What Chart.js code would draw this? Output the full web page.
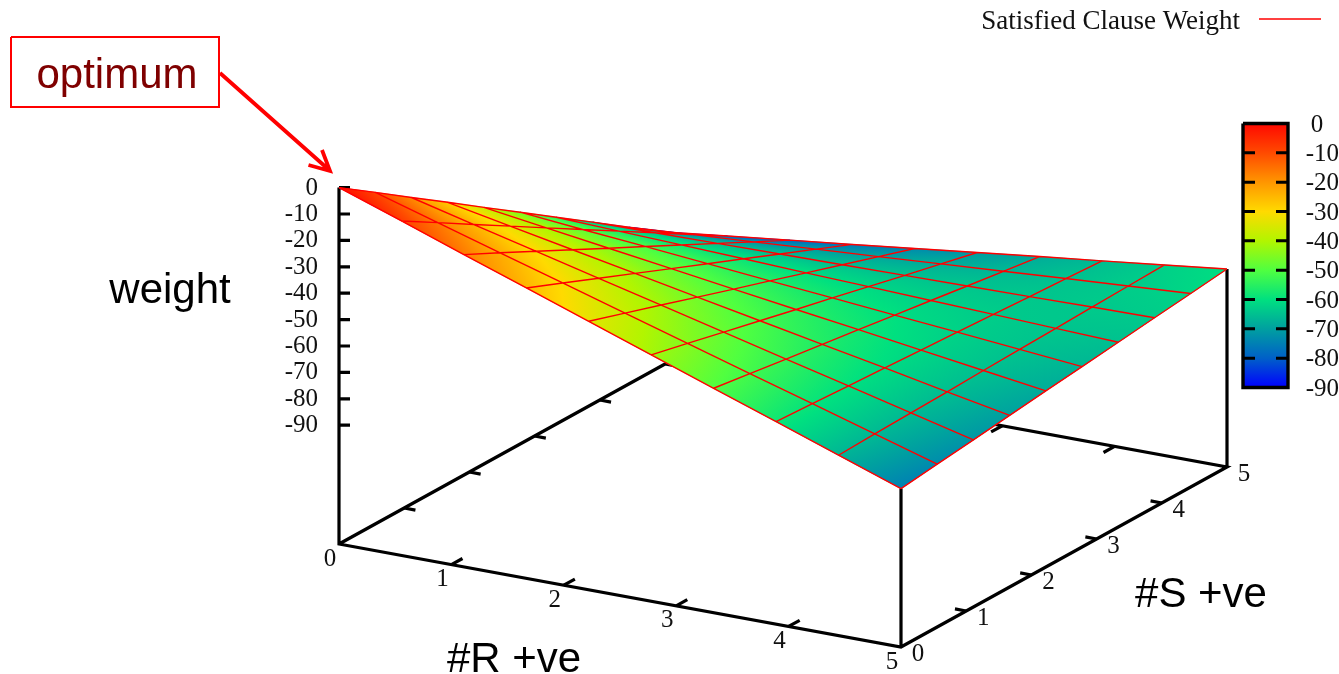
<!DOCTYPE html>
<html>
<head>
<meta charset="utf-8">
<title>Satisfied Clause Weight</title>
<script src="https://cdn.jsdelivr.net/npm/chart.js@4/dist/chart.umd.js"></script>
<style>
  html, body { margin: 0; padding: 0; background: #fff; }
  canvas { display: block; }
</style>
</head>
<body>
<canvas id="surfaceChart" width="1339" height="674"></canvas>
<script>
// surface nodes
const rGrid = [0, 0.556, 1.111, 1.667, 2.222, 2.778, 3.333, 3.889, 4.444, 5];
const sGrid = [0, 0.556, 1.111, 1.667, 2.222, 2.778, 3.333, 3.889, 4.444, 5];
const weightS0 = [0, -8.3, -16.7, -25, -33.3, -41.7, -50, -58.3, -66.7, -75];
const weightS1 = [-9.4, -16.5, -23.6, -30.7, -37.8, -44.9, -52, -59.1, -66.2, -73.3];
const weightS2 = [-18.9, -24.8, -30.6, -36.5, -42.3, -48.2, -54.1, -59.9, -65.8, -71.7];
const weightS3 = [-28.3, -33, -37.6, -42.2, -46.9, -51.5, -56.1, -60.7, -65.4, -70];
const weightS4 = [-37.8, -41.2, -44.6, -48, -51.4, -54.8, -58.1, -61.5, -64.9, -68.3];
const weightS5 = [-47.2, -49.4, -51.5, -53.7, -55.9, -58, -60.2, -62.3, -64.5, -66.7];
const weightS6 = [-56.7, -57.6, -58.5, -59.4, -60.4, -61.3, -62.2, -63.1, -64.1, -65];
const weightS7 = [-66.1, -65.8, -65.5, -65.2, -64.9, -64.6, -64.3, -64, -63.6, -63.3];
const weightS8 = [-75.6, -74, -72.5, -70.9, -69.4, -67.8, -66.3, -64.7, -63.2, -61.7];
const weightS9 = [-85, -82.2, -79.4, -76.7, -73.9, -71.1, -68.3, -65.6, -62.8, -60];
const weights = [weightS0, weightS1, weightS2, weightS3, weightS4, weightS5, weightS6, weightS7, weightS8, weightS9];

const rTicks = [0, 1, 2, 3, 4, 5];
const sTicks = [0, 1, 2, 3, 4, 5];
const zTicks = [0, -10, -20, -30, -40, -50, -60, -70, -80, -90];
const paletteColors = [
  "#ff0800", "#ff4a00", "#ff9600", "#ffda00", "#b2f500",
  "#50ff40", "#00e080", "#00a0a0", "#0060c8", "#0000ff"
];

// gnuplot-like view: r, s, z go to the x and y scales of the chart
const Z_FLOOR = -135;
const project = (r, s, z) => ({
  x: 339 + r * 112.4 + s * 65.2,
  y: 544 + r * 20.6 - s * 36 - (z - Z_FLOOR) * 2.64
});
const BAR = { left: 1243, right: 1288, top: 123.5, bottom: 387.5 };
const barY = (v) => BAR.top + (v / -90) * (BAR.bottom - BAR.top);

const paletteGradient = (ctx, x0, y0, x1, y1) => {
  const g = ctx.createLinearGradient(x0, y0, x1, y1);
  paletteColors.forEach((c, i) => g.addColorStop(i / (paletteColors.length - 1), c));
  return g;
};

const gap = { x: NaN, y: NaN };
const strokes = (segments) => segments.flatMap((seg) => [...seg, gap]);

const frame = strokes([
  [project(0, 0, 0), project(0, 0, Z_FLOOR), project(5, 0, Z_FLOOR), project(5, 5, Z_FLOOR), project(0, 5, Z_FLOOR), project(0, 0, Z_FLOOR)],
  [project(5, 0, weightS0[9]), project(5, 0, Z_FLOOR)],
  [project(5, 5, weightS9[9]), project(5, 5, Z_FLOOR)]
]);
const tickLines = strokes([
  ...zTicks.map((z) => [project(0, 0, z), { x: project(0, 0, z).x + 11, y: project(0, 0, z).y }]),
  ...rTicks.slice(1, 5).flatMap((r) => [
    [project(r, 0, Z_FLOOR), project(r, 0.17, Z_FLOOR)],
    [project(r, 5, Z_FLOOR), project(r, 4.83, Z_FLOOR)]
  ]),
  ...sTicks.slice(1, 5).flatMap((s) => [
    [project(0, s, Z_FLOOR), project(0.1, s, Z_FLOOR)],
    [project(5, s, Z_FLOOR), project(4.9, s, Z_FLOOR)]
  ])
]);
const gridLines = strokes([
  ...sGrid.map((s, j) => rGrid.map((r, i) => project(r, s, weights[j][i]))),
  ...rGrid.map((r, i) => sGrid.map((s, j) => project(r, s, weights[j][i])))
]);
const barBox = strokes([[
  { x: BAR.left, y: BAR.top }, { x: BAR.right, y: BAR.top }, { x: BAR.right, y: BAR.bottom },
  { x: BAR.left, y: BAR.bottom }, { x: BAR.left, y: BAR.top }
]]);
const barTicks = strokes(zTicks.slice(1, 9).flatMap((v) => [
  [{ x: BAR.left, y: barY(v) }, { x: BAR.left + 12, y: barY(v) }],
  [{ x: BAR.right - 12, y: barY(v) }, { x: BAR.right, y: barY(v) }]
]));
const legendLine = [{ x: 1259, y: 19 }, { x: 1321, y: 19 }];
const calloutBox = strokes([[
  { x: 11, y: 37 }, { x: 219, y: 37 }, { x: 219, y: 107 }, { x: 11, y: 107 }, { x: 11, y: 37 }
]]);
const calloutArrow = strokes([
  [{ x: 220, y: 73 }, { x: 328, y: 169 }],
  [{ x: 308.5, y: 165 }, { x: 330, y: 171 }, { x: 322, y: 150 }]
]);

const lineSet = (id, data, color, width, order) => ({
  id, data, order, showLine: true, borderColor: color, borderWidth: width,
  pointRadius: 0, spanGaps: false, tension: 0, clip: false, borderJoinStyle: "miter"
});

const surfacePlugin = {
  id: "surfacePlugin",
  beforeDatasetDraw(chart, args) {
    if (chart.data.datasets[args.index].id !== "surface") return;
    const { ctx, scales } = chart;
    const px = (p) => ({ x: scales.x.getPixelForValue(p.x), y: scales.y.getPixelForValue(p.y) });
    ctx.save();
    ctx.lineWidth = 0.8;
    for (let j = 0; j < sGrid.length - 1; j++) {
      for (let i = 0; i < rGrid.length - 1; i++) {
        const z00 = weights[j][i], z10 = weights[j][i + 1], z01 = weights[j + 1][i], z11 = weights[j + 1][i + 1];
        const p00 = px(project(rGrid[i], sGrid[j], z00));
        const p10 = px(project(rGrid[i + 1], sGrid[j], z10));
        const p01 = px(project(rGrid[i], sGrid[j + 1], z01));
        const p11 = px(project(rGrid[i + 1], sGrid[j + 1], z11));
        // one linear colour ramp per cell, fitted at the cell centre
        const ux = (p10.x + p11.x - p00.x - p01.x) / 2, uy = (p10.y + p11.y - p00.y - p01.y) / 2;
        const vx = (p01.x + p11.x - p00.x - p10.x) / 2, vy = (p01.y + p11.y - p00.y - p10.y) / 2;
        const dzu = (z10 + z11 - z00 - z01) / 2, dzv = (z01 + z11 - z00 - z10) / 2;
        const det = ux * vy - uy * vx;
        const gx = (dzu * vy - dzv * uy) / det, gy = (dzv * ux - dzu * vx) / det;
        const gg = gx * gx + gy * gy;
        const cx = (p00.x + p10.x + p01.x + p11.x) / 4, cy = (p00.y + p10.y + p01.y + p11.y) / 4;
        const zc = (z00 + z10 + z01 + z11) / 4;
        const fill = paletteGradient(ctx,
          cx + (0 - zc) * gx / gg, cy + (0 - zc) * gy / gg,
          cx + (-90 - zc) * gx / gg, cy + (-90 - zc) * gy / gg);
        ctx.beginPath();
        ctx.moveTo(p00.x, p00.y);
        ctx.lineTo(p10.x, p10.y);
        ctx.lineTo(p11.x, p11.y);
        ctx.lineTo(p01.x, p01.y);
        ctx.closePath();
        ctx.fillStyle = fill;
        ctx.strokeStyle = fill;
        ctx.fill();
        ctx.stroke();
      }
    }
    ctx.restore();
  },
  beforeDatasetsDraw(chart) {
    // colour box
    const { ctx } = chart;
    ctx.save();
    ctx.fillStyle = paletteGradient(ctx, 0, BAR.top, 0, BAR.bottom);
    ctx.fillRect(BAR.left, BAR.top, BAR.right - BAR.left, BAR.bottom - BAR.top);
    ctx.restore();
  },
  afterDatasetsDraw(chart) {
    const { ctx } = chart;
    const text = (str, x, y, font, color, align) => {
      ctx.font = font;
      ctx.fillStyle = color;
      ctx.textAlign = align || "center";
      ctx.textBaseline = "middle";
      ctx.fillText(str, x, y);
    };
    const serif = '25px "Liberation Serif"';
    const ink = "#111";
    ctx.save();
    zTicks.forEach((z) => text(String(z), 318, project(0, 0, z).y + 0.5, serif, ink, "right"));
    rTicks.forEach((r) => {
      const p = project(r, 0, Z_FLOOR);
      text(String(r), p.x - 9, p.y + 15, serif, ink);
    });
    sTicks.forEach((s) => {
      const p = project(5, s, Z_FLOOR);
      text(String(s), p.x + 17, p.y + 7.5, serif, ink);
    });
    zTicks.forEach((v) => {
      text(String(v), v === 0 ? 1317 : 1339, barY(v) + 1.5, serif, ink, v === 0 ? "center" : "right");
    });
    text("Satisfied Clause Weight", 1240, 21.5, '27px "Liberation Serif"', ink, "right");
    const sans = '42px "Liberation Sans"';
    text("weight", 170, 291, sans, "#000");
    text("#R +ve", 514, 660, sans, "#000");
    text("#S +ve", 1201, 595, sans, "#000");
    text("optimum", 117, 76, sans, "#7f0000");
    ctx.restore();
  }
};

new Chart(document.getElementById("surfaceChart"), {
  type: "scatter",
  data: {
    datasets: [
      lineSet("frame", frame, "#000", 3.2, 5),
      lineSet("ticks", tickLines, "#000", 3.2, 5),
      { id: "surface", data: [project(0, 0, 0)], order: 4, pointRadius: 0, showLine: false },
      lineSet("grid", gridLines, "#ff0000", 1.4, 3),
      lineSet("barBox", barBox, "#000", 3.4, 2),
      lineSet("barTicks", barTicks, "#000", 3, 2),
      lineSet("Satisfied Clause Weight", legendLine, "#ff0000", 1.5, 2),
      lineSet("calloutBox", calloutBox, "#ff0000", 2, 1),
      lineSet("calloutArrow", calloutArrow, "#ff0000", 3.8, 1)
    ]
  },
  options: {
    responsive: false,
    animation: false,
    events: [],
    layout: { padding: 0 },
    plugins: { legend: { display: false }, tooltip: { enabled: false } },
    scales: {
      x: { type: "linear", min: 0, max: 1339, display: false },
      y: { type: "linear", min: 0, max: 674, reverse: true, display: false }
    }
  },
  plugins: [surfacePlugin]
});
</script>
</body>
</html>
